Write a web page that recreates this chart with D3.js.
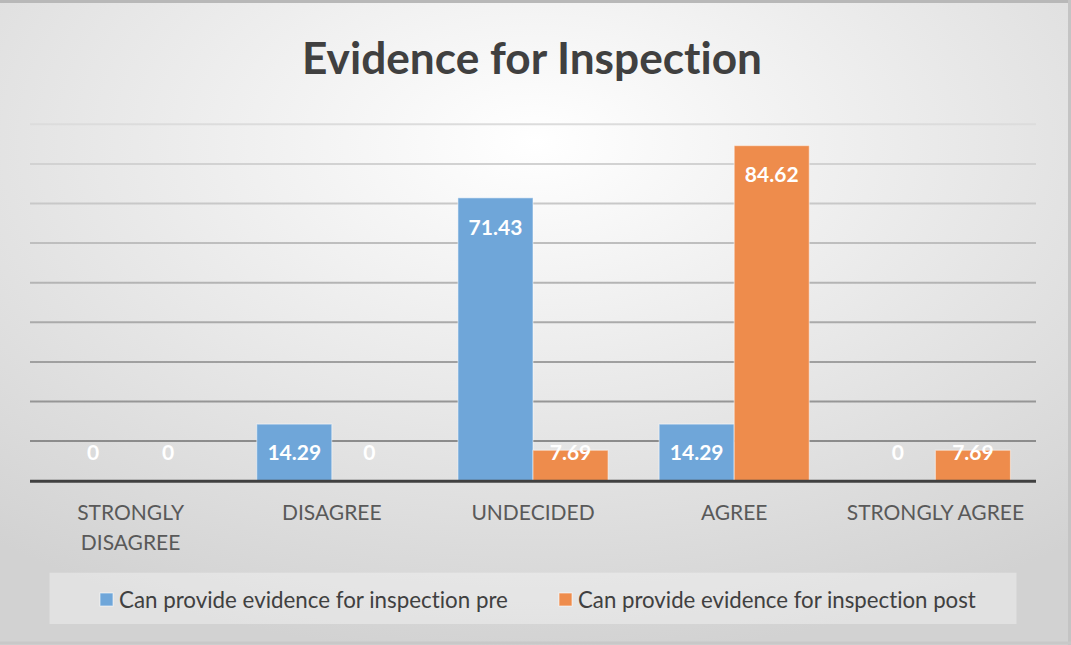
<!DOCTYPE html>
<html>
<head>
<meta charset="utf-8">
<script src="https://cdn.jsdelivr.net/npm/d3@7"></script>
<style>
html,body{margin:0;padding:0;background:#fff;}
svg{display:block;}
text{font-family:Lato,"Open Sans",sans-serif;font-variant-ligatures:none;}
</style>
</head>
<body>
<svg id="chart" width="1071" height="645"></svg>
<script>
const categories = ["STRONGLY DISAGREE","DISAGREE","UNDECIDED","AGREE","STRONGLY AGREE"];
const categoryLines = [["STRONGLY","DISAGREE"],["DISAGREE"],["UNDECIDED"],["AGREE"],["STRONGLY AGREE"]];
const seriesNames = ["Can provide evidence for inspection pre","Can provide evidence for inspection post"];
const preValues = [0, 14.29, 71.43, 14.29, 0];
const postValues = [0, 0, 7.69, 84.62, 7.69];
const gridTicks = [10,20,30,40,50,60,70,80,90];
const title = "Evidence for Inspection";
const colors = ["#6fa6d9", "#ee8c4c"];

const W = 1071, H = 645;
const svg = d3.select("#chart");
const defs = svg.append("defs");

const bg = defs.append("radialGradient").attr("id","bg")
  .attr("cx","50%").attr("cy","22%").attr("r","80%");
bg.append("stop").attr("offset","0%").attr("stop-color","#ffffff");
bg.append("stop").attr("offset","100%").attr("stop-color","#d2d2d2");

const gg = defs.append("linearGradient").attr("id","grid")
  .attr("gradientUnits","userSpaceOnUse")
  .attr("x1",0).attr("x2",0).attr("y1",125).attr("y2",441);
gg.append("stop").attr("offset","0%").attr("stop-color","#dcdcdc");
gg.append("stop").attr("offset","100%").attr("stop-color","#8c8c8c");

svg.append("rect").attr("x",0).attr("y",0).attr("width",W).attr("height",H).attr("fill","url(#bg)");
svg.append("line").attr("x1",0).attr("x2",W).attr("y1",1.5).attr("y2",1.5).attr("stroke","#b8b8b8").attr("stroke-width",3);
svg.append("line").attr("x1",W-1.5).attr("x2",W-1.5).attr("y1",0).attr("y2",H).attr("stroke","#c4c4c4").attr("stroke-width",3);
svg.append("line").attr("x1",0).attr("x2",W).attr("y1",H-2).attr("y2",H-2).attr("stroke","#c8c8c8").attr("stroke-width",3);

// scale a text's font size so its rendered width matches a target width
function fitWidth(node, target){
  const fs = parseFloat(node.getAttribute("font-size"));
  const w = node.getComputedTextLength();
  if (w > 0) node.setAttribute("font-size", (fs*target/w).toFixed(2));
}

const plotL = 30, plotR = 1036;
const y = d3.scaleLinear().domain([0,90]).range([480.7,124.3]);
const x0 = d3.scaleBand().domain(categories).range([plotL,plotR]).padding(0);
const x1 = d3.scaleBand().domain(seriesNames).range([0,x0.bandwidth()]).paddingInner(0).paddingOuter(0.34);

// title
const t = svg.append("text").attr("x",532).attr("y",74).attr("text-anchor","middle")
  .attr("font-size",43).attr("font-weight","bold").attr("fill","#404040").text(title);
fitWidth(t.node(), 460);

// gridlines
svg.append("g").selectAll("line").data(gridTicks).join("line")
  .attr("x1",plotL).attr("x2",plotR)
  .attr("y1",d=>y(d)).attr("y2",d=>y(d))
  .attr("stroke","url(#grid)").attr("stroke-width",2);

// bars
const data = categories.map((c,i)=>({cat:c, vals:[preValues[i], postValues[i]]}));
const groups = svg.append("g").selectAll("g").data(data).join("g")
  .attr("transform",d=>`translate(${x0(d.cat)},0)`);
const bars = groups.selectAll("g").data(d=>d.vals.map((v,j)=>({v, s:seriesNames[j], j}))).join("g");
bars.append("rect")
  .attr("x",d=>x1(d.s)).attr("width",x1.bandwidth())
  .attr("y",d=>y(d.v)).attr("height",d=>y(0)-y(d.v))
  .attr("fill",d=>colors[d.j])
  .attr("stroke","rgba(255,255,255,0.45)").attr("stroke-width",d=>d.v>0?1.2:0);
bars.append("text")
  .attr("x",d=>x1(d.s)+x1.bandwidth()/2)
  .attr("y",d=>Math.min(y(d.v)+29.5, y(0)-28.5))
  .attr("dy","0.35em")
  .attr("text-anchor","middle").attr("font-size",21).attr("font-weight","bold")
  .attr("fill","#ffffff").text(d=>String(d.v));

// axis
svg.append("line").attr("x1",plotL).attr("x2",plotR).attr("y1",y(0)+0.5).attr("y2",y(0)+0.5)
  .attr("stroke","#404040").attr("stroke-width",3);

// category labels
const cl = svg.append("g").selectAll("text").data(categories).join("text")
  .attr("x",d=>x0(d)+x0.bandwidth()/2)
  .attr("y",513)
  .attr("text-anchor","middle").attr("font-size",21).attr("fill","#595959");
cl.selectAll("tspan").data((d,i)=>categoryLines[i]).join("tspan")
  .attr("x",function(){return this.parentNode.getAttribute("x");})
  .attr("dy",(d,i)=>i===0?"0.35em":"29.7px")
  .text(d=>d);

// legend
svg.append("rect").attr("x",49.5).attr("y",572.7).attr("width",967).attr("height",51.3)
  .attr("fill","rgba(255,255,255,0.35)");
const legX = [100, 559];
const legW = [389, 398];
const lg = svg.append("g").selectAll("g").data(seriesNames).join("g")
  .attr("transform",(d,i)=>`translate(${legX[i]},0)`);
lg.append("rect").attr("x",0).attr("y",593).attr("width",13).attr("height",13)
  .attr("fill",(d,i)=>colors[i]).attr("stroke","rgba(255,255,255,0.6)").attr("stroke-width",1);
lg.append("text").attr("x",19).attr("y",600).attr("dy","0.35em")
  .attr("font-size",20).attr("fill","#404040").text(d=>d)
  .each(function(d,i){ fitWidth(this, legW[i]); });
</script>
</body>
</html>
